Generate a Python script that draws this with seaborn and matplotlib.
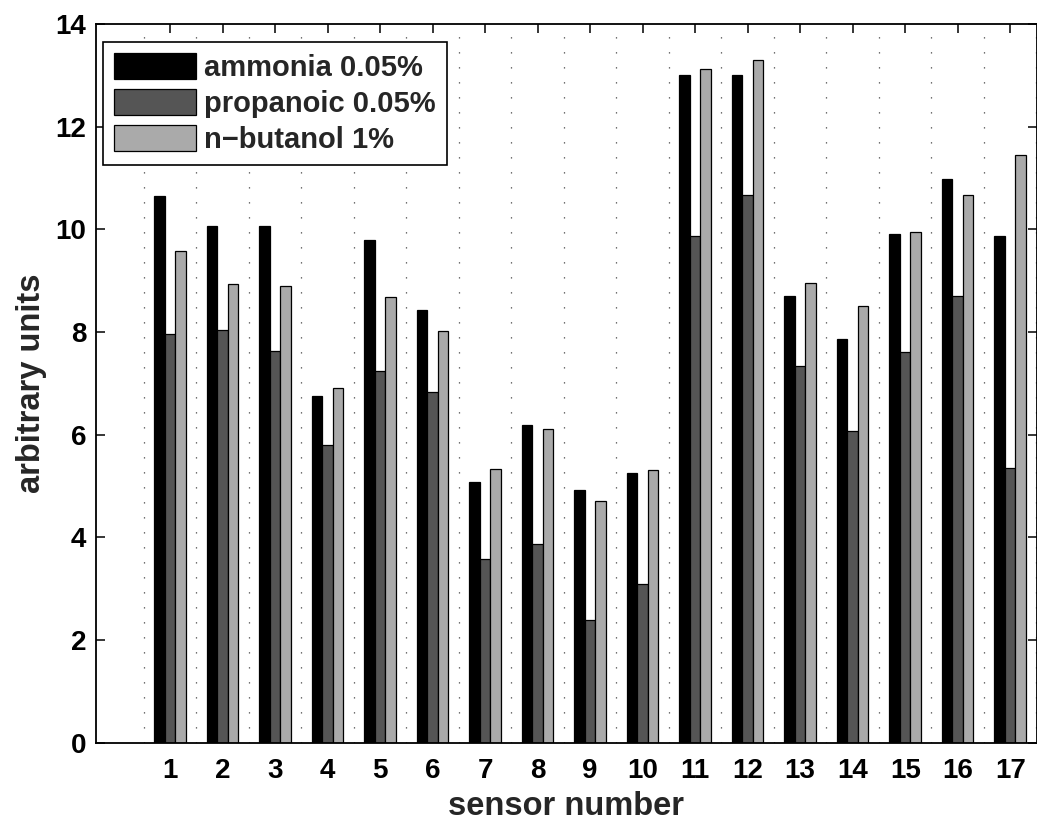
import numpy as np
import pandas as pd
import matplotlib
matplotlib.use("Agg")
import matplotlib.pyplot as plt
import seaborn as sns

sensors = [str(i) for i in range(1, 18)]
ammonia = [10.65, 10.07, 10.06, 6.76, 9.80, 8.42, 5.07, 6.18, 4.93, 5.25,
           13.01, 13.01, 8.71, 7.86, 9.90, 10.99, 9.87]
propanoic = [7.96, 8.03, 7.63, 5.80, 7.25, 6.83, 3.58, 3.88, 2.39, 3.10,
             9.87, 10.66, 7.33, 6.07, 7.62, 8.70, 5.35]
butanol = [9.57, 8.94, 8.89, 6.90, 8.68, 8.02, 5.34, 6.12, 4.70, 5.32,
           13.12, 13.29, 8.96, 8.51, 9.95, 10.66, 11.44]
series_names = ["ammonia 0.05%", "propanoic 0.05%", "n\u2212butanol 1%"]
colors = ["#000000", "#555555", "#aaaaaa"]
yticks = [0, 2, 4, 6, 8, 10, 12, 14]

rows = []
for name, vals in zip(series_names, [ammonia, propanoic, butanol]):
    for s, v in zip(sensors, vals):
        rows.append({"sensor": s, "value": v, "series": name})
df = pd.DataFrame(rows)

sns.set_style("ticks")
plt.rcParams["font.family"] = ["Liberation Sans", "DejaVu Sans"]
plt.rcParams["font.weight"] = "bold"

fig = plt.figure(figsize=(10.37, 8.25), dpi=100)
ax = fig.add_axes([96 / 1037, 82.3 / 825, (1037 - 96) / 1037, 718.7 / 825])

sns.barplot(data=df, x="sensor", y="value", hue="series", order=sensors,
            hue_order=series_names, palette=colors, width=0.6,
            edgecolor="black", linewidth=0.9, saturation=1, ax=ax,
            errorbar=None)

ax.set_xlim(-1.41, 16.51)
ax.set_ylim(0, 14)
ax.set_yticks(yticks)
ax.set_xticks(range(len(sensors)))
ax.set_xticklabels(sensors)
ax.set_xticks(np.arange(-0.5, len(sensors), 1), minor=True)
ax.set_axisbelow(True)
ax.xaxis.grid(True, which="minor", linestyle=(0, (1, 11)), color="#444444",
              linewidth=0.9)
ax.yaxis.grid(False)

ax.tick_params(axis="both", which="major", direction="in", length=6.5,
               width=1.1, top=True, right=True, labelsize=20, colors="black")
ax.tick_params(axis="x", which="major", pad=11)
ax.tick_params(axis="y", which="major", pad=7)
ax.tick_params(axis="x", which="minor", length=0, top=False, bottom=False)
for lab in ax.get_xticklabels() + ax.get_yticklabels():
    lab.set_fontweight("bold")
for sp in ax.spines.values():
    sp.set_visible(True)
    sp.set_linewidth(1.3)
    sp.set_color("black")

ax.set_xlabel("sensor number", fontsize=23.5, fontweight="bold", labelpad=5)
ax.set_ylabel("arbitrary units", fontsize=23.5, fontweight="bold", labelpad=6)

handles, labels = ax.get_legend_handles_labels()
if ax.get_legend() is not None:
    ax.get_legend().remove()
leg = ax.legend(handles, labels, loc="upper left",
                bbox_to_anchor=(0.0074, 0.9754), borderaxespad=0,
                handlelength=2.8, handleheight=1.0,
                labelspacing=0.24, handletextpad=0.3, borderpad=0.38,
                fancybox=False, framealpha=1, edgecolor="black",
                prop={"weight": "bold", "size": 21})
leg.get_frame().set_linewidth(1.2)

fig.savefig("out.png", dpi=100)
